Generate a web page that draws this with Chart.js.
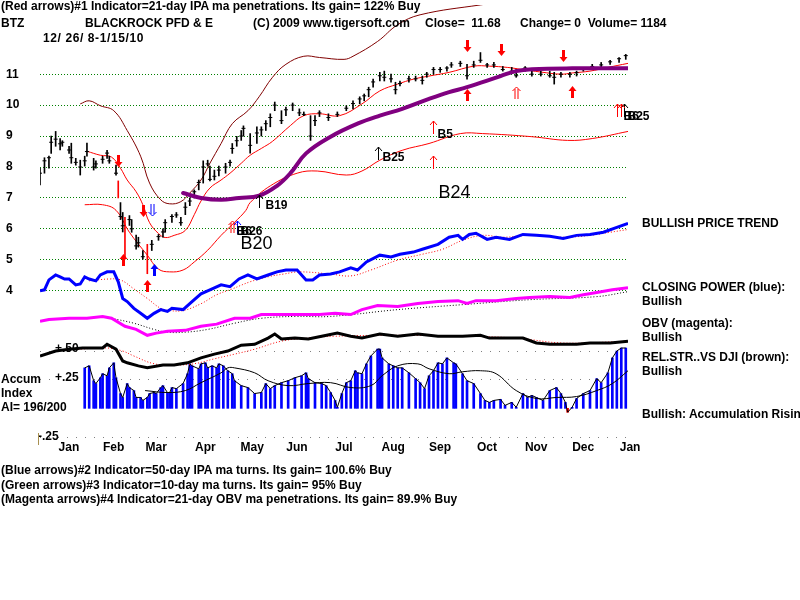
<!DOCTYPE html>
<html>
<head>
<meta charset="utf-8">
<script src="https://cdn.jsdelivr.net/npm/chart.js@4/dist/chart.umd.min.js"></script>
<style>
  body { margin: 0; background: #fff; }
  #wrap { position: relative; width: 800px; height: 600px; overflow: hidden;
          font-family: "Liberation Sans", Arial, sans-serif; font-weight: bold; font-size: 12px; color: #000; }
  #wrap canvas { position: absolute; left: 0; top: 0; }
  .t { position: absolute; white-space: pre; line-height: 14px; }
</style>
</head>
<body>
<div id="wrap">
  <canvas id="chart" width="800" height="600"></canvas>

  <div class="t" style="left:1px;top:-1px">(Red arrows)#1 Indicator=21-day IPA ma penetrations. Its gain= 122% Buy</div>
  <div class="t" style="left:1px;top:16px">BTZ</div>
  <div class="t" style="left:85px;top:16px">BLACKROCK PFD &amp; E</div>
  <div class="t" style="left:253px;top:16px">(C) 2009 www.tigersoft.com</div>
  <div class="t" style="left:425px;top:16px">Close=  11.68</div>
  <div class="t" style="left:520px;top:16px">Change= 0  Volume= 1184</div>
  <div class="t" style="left:43px;top:31px;letter-spacing:0.6px">12/ 26/ 8-1/15/10</div>

  <div class="t" style="left:642px;top:216px">BULLISH PRICE TREND</div>
  <div class="t" style="left:642px;top:280px">CLOSING POWER (blue):</div>
  <div class="t" style="left:642px;top:294px">Bullish</div>
  <div class="t" style="left:642px;top:316px">OBV (magenta):</div>
  <div class="t" style="left:642px;top:330px">Bullish</div>
  <div class="t" style="left:642px;top:350px">REL.STR..VS DJI (brown):</div>
  <div class="t" style="left:642px;top:364px">Bullish</div>
  <div class="t" style="left:642px;top:407px">Bullish: Accumulation Rising</div>

  <div class="t" style="left:1px;top:372px">Accum</div>
  <div class="t" style="left:1px;top:386px">Index</div>
  <div class="t" style="left:1px;top:400px">AI= 196/200</div>
  <div class="t" style="left:55px;top:341px">+.50</div>
  <div class="t" style="left:55px;top:370px">+.25</div>
  <div class="t" style="left:38px;top:429px">-.25</div>
  <div style="position:absolute;left:38px;top:433px;width:1px;height:12px;background:#a89050"></div>

  <div class="t" style="left:1px;top:463px">(Blue arrows)#2 Indicator=50-day IPA ma turns. Its gain= 100.6% Buy</div>
  <div class="t" style="left:1px;top:478px">(Green arrows)#3 Indicator=10-day ma turns. Its gain= 95% Buy</div>
  <div class="t" style="left:1px;top:492px">(Magenta arrows)#4 Indicator=21-day OBV ma penetrations. Its gain= 89.9% Buy</div>
</div>

<script>
'use strict';

// x = trading day since 12/26/08, prices in dollars, indicators drawn in the price grid
const monthTicks = [4, 24, 43, 65, 86, 106, 127, 149, 170, 191, 213, 234, 255];
const monthLabels = ['Jan', 'Feb', 'Mar', 'Apr', 'May', 'Jun', 'Jul', 'Aug', 'Sep', 'Oct', 'Nov', 'Dec', 'Jan'];
const priceTicks = [4, 5, 6, 7, 8, 9, 10, 11];
const accumLevels = [-0.25, 0.25, 0.5];

const barDays = [0,2,4,5,7,9,10,13,14,16, 18,20,21,24,25,28,30,31,34,36, 37,40,41,43,44,46,50,53,55,56,
  59,61,63,65,67,69,71,73,75,76, 78,80,83,85,86,88,90,91,94,97, 99,101,103,105,108,110,113,116,118,121,
  123,125,129,133,137,140,143,145,147,149, 152,154,157,159,161,165,168,171,173,176,
  179,182,184,188,191,194,197,200,203,207, 211,213,217,220,224,228,230,233,237,240, 243,247,251,255,259,262];
const barHigh = [7.96,8.3,8.35,9.0,9.15,8.92,8.85,8.67,8.77,8.28, 8.22,8.35,8.77,8.28,8.2,8.35,8.54,8.35,8.06,6.85,
  6.53,6.43,6.3,5.8,5.73,5.3,5.63,5.82,6.0,6.3, 6.46,6.53,6.37,6.85,7.0,7.26,7.58,8.2,8.22,8.03,
  7.9,8.03,8.12,8.22,8.76,8.99,9.18,9.33,9.08,9.3, 9.3,9.5,9.72,10.1,9.82,9.94,10.07,9.88,9.78,9.66,
  9.66,9.82,9.72,9.78,9.98,10.14,10.27,10.36,10.58,10.84, 11.06,11.1,11.0,10.74,10.78,10.94,10.94,10.94,11.06,11.22,
  11.22,11.25,11.38,11.42,11.32,11.42,11.7,11.35,11.38,11.25, 11.22,11.16,11.25,11.13,11.1,11.1,11.06,11.06,11.06,11.1,
  11.22,11.32,11.38,11.45,11.54,11.64];
const barLow = [7.42,7.8,7.96,8.44,8.67,8.55,8.67,8.44,8.12,8.06, 7.74,8.03,8.35,7.9,7.96,8.12,8.28,8.12,7.74,6.3,
  5.9,6.11,5.89,5.34,5.41,5.02,5.3,5.63,5.73,5.89, 6.21,6.37,6.11,6.46,6.75,7.0,7.26,7.48,8.03,7.55,
  7.58,7.71,7.8,8.03,8.44,8.67,8.86,9.0,8.45,8.76, 9.0,9.18,9.3,9.82,9.4,9.66,9.82,9.66,9.66,8.86,
  9.34,9.63,9.5,9.63,9.82,9.88,10.04,10.14,10.27,10.58, 10.78,10.78,10.74,10.36,10.62,10.74,10.78,10.68,10.9,11.0,
  11.06,11.1,11.22,11.25,10.84,11.22,11.38,11.22,11.22,11.1, 11.06,10.9,11.1,10.94,10.94,10.9,10.68,10.9,10.9,10.94,
  11.1,11.16,11.22,11.32,11.38,11.48];
const barClose = [7.8,8.2,8.3,8.8,8.9,8.75,8.8,8.55,8.3,8.15, 8.0,8.2,8.5,8.0,8.1,8.25,8.45,8.2,7.8,6.4,
  6.1,6.3,6.0,5.45,5.55,5.1,5.5,5.75,5.9,6.2, 6.4,6.45,6.2,6.7,6.9,7.2,7.5,8.0,8.1,7.6,
  7.7,7.9,8.0,8.15,8.6,8.85,9.0,9.25,8.7,9.1, 9.2,9.4,9.6,10.0,9.5,9.85,10.0,9.75,9.7,9.0,
  9.5,9.75,9.6,9.7,9.9,10.05,10.2,10.3,10.5,10.75, 10.95,10.9,10.85,10.5,10.7,10.85,10.85,10.8,11.0,11.15,
  11.15,11.2,11.3,11.35,10.95,11.3,11.45,11.3,11.3,11.15, 11.1,10.95,11.2,11.0,11.0,10.95,10.9,11.0,11.0,11.05,
  11.15,11.25,11.3,11.4,11.5,11.6];

// sell-off days drawn in red
const redBarDays = [35, 38, 48];
const redBarHigh = [7.55, 6.37, 5.5];
const redBarLow = [7.0, 5.02, 4.55];

const upperBandDays = [18,22,27,33,39,45,49,54,58,63,67,72,76,81,86,93,98,104,110,118,125,136,140,151,160,170,197,224,263];
const upperBandVals = [10.04,10.14,9.98,9.82,9.18,8.35,7.48,6.94,6.81,6.88,7.16,7.58,8.12,8.76,9.4,9.82,10.27,10.9,11.32,11.58,11.54,11.48,11.58,12.06,12.6,12.92,13.24,13.5,13.6];

const ma21Days = [21,27,32,36,39,43,46,49,53,56,60,65,69,72,76,81,85,90,94,99,104,112,118,125,134,144,152,160,167,174,183,194,201,209,215,224,233,238,246,254,263];
const ma21Vals = [8.51,8.38,8.32,7.96,7.58,7.2,6.78,6.2,5.85,5.72,5.79,5.95,6.46,6.9,7.32,7.58,7.8,8.12,8.38,8.6,8.83,9.34,9.66,9.72,9.66,10.04,10.46,10.68,10.84,10.94,11.06,11.26,11.26,11.22,11.16,11.07,11.0,11.04,11.1,11.22,11.35];

const lowerBandDays = [20,28,34,40,48,53,58,64,69,75,81,87,92,94,103,115,124,137,144,152,162,174,188,198,220,236,247,263];
const lowerBandVals = [6.78,6.78,6.6,5.89,5.15,4.7,4.61,4.67,4.93,5.31,5.79,6.21,6.59,6.85,7.39,7.8,7.87,7.74,7.87,8.22,8.54,8.76,9.08,9.08,8.98,8.86,8.92,9.15];

const ma50Days = [64,72,81,89,98,106,112,119,130,142,152,162,174,183,191,206,213,220,238,263];
const ma50Vals = [7.16,7.0,6.94,7.0,7.07,7.39,7.8,8.44,8.98,9.4,9.66,9.88,10.2,10.42,10.58,10.94,11.1,11.16,11.19,11.19];

const cpDays = [0,2,4,7,9,11,13,16,18,20, 22,25,27,30,33,35,37,39,42,45, 48,51,54,57,59,64,68,72,76,81,
  85,89,93,97,102,106,110,115,119,122, 125,130,134,139,142,146,152,157,161,167, 171,178,183,187,189,192,195,200,204,210,
  216,222,228,234,240,246,252,258,263];
const cpVals = [4.0,4.03,4.35,4.51,4.45,4.38,4.38,4.19,4.22,4.45, 4.38,4.32,4.51,4.61,4.61,4.29,3.75,3.65,3.43,3.27,
  3.11,3.27,3.39,3.33,3.43,3.39,3.65,3.9,4.03,4.19, 4.13,4.38,4.51,4.38,4.51,4.61,4.67,4.67,4.35,4.35,
  4.51,4.54,4.61,4.74,4.67,4.93,5.15,5.09,5.18,5.25, 5.34,5.5,5.73,5.79,5.66,5.82,5.86,5.66,5.73,5.66,
  5.82,5.79,5.76,5.69,5.79,5.82,5.89,6.05,6.18];
const cpMaDays = [22,31,36,42,48,54,58,64,72,79,86,94,102,109,116,130,139,148,160,171,180,189,198,207,219,234,246,255,263];
const cpMaVals = [4.32,4.38,4.35,4.06,3.75,3.43,3.36,3.36,3.58,3.87,4.06,4.29,4.45,4.54,4.61,4.54,4.48,4.67,4.99,5.18,5.34,5.63,5.79,5.73,5.79,5.73,5.79,5.89,5.98];

const obvDays = [0,4,13,21,28,32,38,43,48,52,57,65,72,79,87,94,99,109,117,125,132,139,144,151,160,169,178,187,191,195,204,213,219,228,237,243,249,256,263];
const obvVals = [3.01,3.07,3.11,3.11,3.17,3.11,2.85,2.75,2.56,2.63,2.69,2.72,2.85,2.92,3.11,3.11,3.23,3.23,3.23,3.23,3.27,3.23,3.39,3.52,3.49,3.59,3.65,3.68,3.59,3.68,3.68,3.75,3.78,3.81,3.78,3.87,3.94,4.03,4.1];
const obvMaDays = [32,42,51,57,65,75,87,99,114,130,160,189,219,249,263];
const obvMaVals = [3.11,2.95,2.75,2.66,2.66,2.75,2.95,3.11,3.17,3.17,3.39,3.55,3.71,3.81,3.97];

const rsDays = [0,7,13,19,23,28,30,34,37,39,44,48,55,60,66,72,78,84,90,96,102,105,108,114,120,126,133,139,144,152,160,169,178,189,197,201,210,216,222,228,234,240,246,255,263];
const rsVals = [1.89,2.05,2.11,2.15,2.15,2.15,2.27,2.11,1.73,1.67,1.57,1.51,1.6,1.6,1.67,1.83,1.95,2.05,2.24,2.27,2.47,2.6,2.44,2.47,2.44,2.53,2.63,2.53,2.47,2.6,2.53,2.6,2.53,2.53,2.56,2.47,2.47,2.47,2.31,2.27,2.27,2.27,2.31,2.31,2.37];
const rsMaDays = [17,30,37,42,51,60,69,78,87,96,108,120,132,161,189,213,234,263];
const rsMaVals = [2.11,2.15,2.05,1.89,1.64,1.6,1.64,1.8,1.95,2.11,2.37,2.47,2.53,2.56,2.53,2.47,2.31,2.37];

const accumDays = [20,22,24,25,27,28,30,31,33,34, 36,37,39,40,42,43,45,46,48,49, 51,52,54,55,57,58,59,61,64,66,
  67,68,71,72,74,75,77,79,80,82, 84,86,87,90,93,96,99,101,103,105, 108,111,114,117,119,120,123,126,128,130,
  132,133,135,137,139,141,142,144,146,148, 151,152,153,156,158,160,162,165,168,170, 172,174,176,178,180,182,185,186,189,191,
  194,197,199,201,203,206,208,211,213,216, 218,220,222,225,228,231,233,235,236,238, 240,243,246,249,251,254,256,258,260,262];
const accumVals = [0.353,0.371,0.241,0.216,0.267,0.302,0.284,0.353,0.397,0.267, 0.129,0.095,0.216,0.181,0.155,0.095,0.095,0.069,0.095,0.129,
  0.138,0.129,0.181,0.198,0.138,0.138,0.181,0.172,0.216,0.302, 0.388,0.371,0.345,0.388,0.397,0.353,0.371,0.353,0.388,0.371,
  0.328,0.302,0.241,0.198,0.181,0.129,0.138,0.216,0.172,0.198, 0.224,0.241,0.267,0.284,0.31,0.259,0.224,0.216,0.198,0.138,
  0.069,0.009,0.129,0.224,0.241,0.328,0.31,0.302,0.388,0.457, 0.517,0.517,0.44,0.388,0.371,0.353,0.353,0.31,0.259,0.224,
  0.172,0.284,0.328,0.397,0.388,0.44,0.397,0.388,0.302,0.241, 0.216,0.129,0.069,0.052,0.069,0.078,0.026,0.052,0.009,0.129,
  0.095,0.112,0.095,0.069,0.155,0.181,0.129,0.052,-0.034,0.009, 0.086,0.129,0.155,0.259,0.224,0.31,0.44,0.5,0.526,0.526];
const accumMaDays = [47,57,65,72,81,84,87,96,102,111,120,130,139,148,153,160,169,174,183,189,197,204,213,222,231,240,249,256,263];
const accumMaVals = [0.155,0.138,0.155,0.224,0.31,0.353,0.353,0.31,0.241,0.198,0.216,0.224,0.181,0.198,0.284,0.371,0.388,0.345,0.302,0.319,0.328,0.302,0.155,0.086,0.095,0.103,0.155,0.216,0.328];

// signal arrows: day and price of the arrow tip
const ipaSellDays = [35, 46, 191, 206, 234];
const ipaSellTips = [8.0, 6.37, 11.73, 11.6, 11.38];
const ipaBuyDays = [37, 48, 191, 238];
const ipaBuyTips = [5.18, 4.35, 10.52, 10.61];
const ipaTurnDays = [86, 213];
const ipaTurnTips = [6.27, 10.58];
const ma50SellDays = [50];
const ma50SellTips = [6.4];
const ma50BuyDays = [51];
const ma50BuyTips = [4.86];
const minorBuyDays = [88];
const minorBuyTips = [6.27];
const bSignalDays = [98, 151, 261];
const bSignalTips = [7.1, 8.66, 10.04];
const redTickDays = [176, 176, 258, 260];
const redTickTips = [9.49, 8.34, 10.04, 10.04];

const signalNames = ['B19', 'B25', 'B5', 'B6', 'B26', 'B6', 'B25'];
const signalDays = [100.6, 153, 177.5, 87.7, 89.4, 260.7, 262.5];
const signalPrices = [6.75, 8.28, 9.05, 5.89, 5.89, 9.62, 9.62];
const bigNames = ['B20', 'B24'];
const bigDays = [89.4, 178];
const bigPrices = [5.5, 7.16];

const pts = (xs, ys) => xs.map((x, i) => ({ x, y: ys[i] }));
const spans = (xs, lo, hi) => xs.map((x, i) => ({ x, y: [lo[i], hi[i]] }));

function line(xs, ys, color, width, order, extra) {
  return Object.assign({
    type: 'line', data: pts(xs, ys), borderColor: color, borderWidth: width,
    pointRadius: 0, fill: false, tension: 0, yAxisID: 'y', order,
  }, extra || {});
}

function drawSolid(ctx, px, py, dir, color) {
  const s = dir === 'up' ? 1 : -1;
  ctx.fillStyle = color;
  ctx.beginPath();
  ctx.moveTo(px, py);
  ctx.lineTo(px - 4, py + s * 5);
  ctx.lineTo(px + 4, py + s * 5);
  ctx.closePath();
  ctx.fill();
  ctx.fillRect(px - 1.5, dir === 'up' ? py + 5 : py - 12, 3, 7);
}

function drawHollow(ctx, px, py, dir, color) {
  const s = dir === 'up' ? 1 : -1;
  ctx.strokeStyle = color;
  ctx.lineWidth = 1;
  ctx.beginPath();
  ctx.moveTo(px - 4, py + s * 4);
  ctx.lineTo(px, py);
  ctx.lineTo(px + 4, py + s * 4);
  ctx.moveTo(px - 1.5, py + s * 2);
  ctx.lineTo(px - 1.5, py + s * 12);
  ctx.moveTo(px + 1.5, py + s * 2);
  ctx.lineTo(px + 1.5, py + s * 12);
  ctx.stroke();
}

function drawThin(ctx, px, py, color) {
  ctx.strokeStyle = color;
  ctx.lineWidth = 1;
  ctx.beginPath();
  ctx.moveTo(px - 3.5, py + 4);
  ctx.lineTo(px, py);
  ctx.lineTo(px + 3.5, py + 4);
  ctx.moveTo(px, py);
  ctx.lineTo(px, py + 13);
  ctx.stroke();
}

const signalPlugin = {
  id: 'signals',
  afterDatasetsDraw(chart) {
    const { ctx, scales: { x, y } } = chart;
    const at = (d, p) => [Math.round(x.getPixelForValue(d)) + 0.5, Math.round(y.getPixelForValue(p))];
    ctx.save();
    ipaSellDays.forEach((d, i) => { const [px, py] = at(d, ipaSellTips[i]); drawSolid(ctx, px, py, 'down', '#ff0000'); });
    ipaBuyDays.forEach((d, i) => { const [px, py] = at(d, ipaBuyTips[i]); drawSolid(ctx, px, py, 'up', '#ff0000'); });
    ipaTurnDays.forEach((d, i) => { const [px, py] = at(d, ipaTurnTips[i]); drawHollow(ctx, px, py, 'up', '#ff0000'); });
    ma50SellDays.forEach((d, i) => { const [px, py] = at(d, ma50SellTips[i]); drawHollow(ctx, px, py, 'down', '#0000ff'); });
    ma50BuyDays.forEach((d, i) => { const [px, py] = at(d, ma50BuyTips[i]); drawSolid(ctx, px, py, 'up', '#0000ff'); });
    minorBuyDays.forEach((d, i) => { const [px, py] = at(d, minorBuyTips[i]); drawThin(ctx, px, py, '#0000ff'); });
    bSignalDays.forEach((d, i) => { const [px, py] = at(d, bSignalTips[i]); drawThin(ctx, px, py, '#000000'); });
    redTickDays.forEach((d, i) => { const [px, py] = at(d, redTickTips[i]); drawThin(ctx, px, py, '#ff0000'); });

    ctx.fillStyle = '#000';
    ctx.textBaseline = 'middle';
    ctx.textAlign = 'left';
    ctx.font = 'bold 12px "Liberation Sans", Arial, sans-serif';
    signalNames.forEach((t, i) => { const [px, py] = at(signalDays[i], signalPrices[i]); ctx.fillText(t, px, py); });
    ctx.font = '18px "Liberation Sans", Arial, sans-serif';
    bigNames.forEach((t, i) => { const [px, py] = at(bigDays[i], bigPrices[i]); ctx.fillText(t, px, py); });
    ctx.restore();
  },
};

const noPad = (s) => { s.paddingTop = 0; s.paddingBottom = 0; s.paddingLeft = 0; s.paddingRight = 0; };

new Chart(document.getElementById('chart'), {
  type: 'line',
  data: {
    datasets: [
      { type: 'bar', data: pts(accumDays, accumVals), yAxisID: 'yAcc', grouped: false, barThickness: 2,
        backgroundColor: (c) => (c.raw && c.raw.y < 0 ? '#ff0000' : '#0000ff'), order: 20 },
      line(accumDays, accumVals, '#000000', 1, 19, { yAxisID: 'yAcc' }),
      line(accumMaDays, accumMaVals, '#000000', 1, 18, { yAxisID: 'yAcc', tension: 0.4 }),

      line(upperBandDays, upperBandVals, '#800000', 1, 15, { tension: 0.4 }),
      line(ma21Days, ma21Vals, '#ff0000', 1, 15, { tension: 0.4 }),
      line(lowerBandDays, lowerBandVals, '#ff0000', 1, 15, { tension: 0.4 }),

      line(cpMaDays, cpMaVals, '#ff0000', 1, 14, { borderDash: [1, 2], tension: 0.4 }),
      line(obvMaDays, obvMaVals, '#000000', 1, 14, { borderDash: [1, 2], tension: 0.4 }),
      line(rsMaDays, rsMaVals, '#ff0000', 1, 14, { borderDash: [1, 2], tension: 0.4 }),

      line(cpDays, cpVals, '#0000ff', 3, 12),
      line(obvDays, obvVals, '#ff00ff', 3, 12),
      line(rsDays, rsVals, '#000000', 3, 12),

      { type: 'bar', data: spans(redBarDays, redBarLow, redBarHigh), yAxisID: 'y', grouped: false,
        barThickness: 1, backgroundColor: '#ff0000', order: 10 },
      { type: 'bar', data: spans(barDays, barLow, barHigh), yAxisID: 'y', grouped: false,
        barThickness: 1, backgroundColor: '#000000', order: 9 },
      line(barDays, barClose, '#000000', 1, 8, { showLine: false, pointRadius: 2, pointStyle: 'line',
        pointBorderColor: '#000000', pointBorderWidth: 1 }),

      line(ma50Days, ma50Vals, '#800080', 4, 5, { tension: 0.4, borderCapStyle: 'round' }),
    ],
  },
  options: {
    responsive: false,
    animation: false,
    events: [],
    layout: { padding: { left: 6, right: 172, top: 0, bottom: 0 } },
    plugins: { legend: { display: false }, tooltip: { enabled: false } },
    scales: {
      x: {
        type: 'linear', min: 0, max: 263, offset: false,
        afterBuildTicks: (s) => { s.ticks = monthTicks.map((v) => ({ value: v })); },
        afterFit: (s) => { s.height = 160; noPad(s); },
        grid: { display: false, drawTicks: false },
        border: { display: false },
        ticks: {
          padding: 0, labelOffset: 20, autoSkip: false, maxRotation: 0, color: '#000',
          font: { family: '"Liberation Sans", Arial, sans-serif', size: 12, weight: 'bold' },
          callback: (v, i) => monthLabels[i],
        },
      },
      y: {
        position: 'left', min: -0.825, max: 13.237,
        afterBuildTicks: (s) => { s.ticks = priceTicks.map((v) => ({ value: v })); },
        afterFit: (s) => { s.width = 34; noPad(s); },
        grid: { color: '#008000', lineWidth: 1, drawTicks: false },
        border: { display: false, dash: [1, 2] },
        ticks: {
          crossAlign: 'far', padding: 0, color: '#000',
          font: { family: '"Liberation Sans", Arial, sans-serif', size: 12, weight: 'bold' },
        },
      },
      yAcc: {
        position: 'left', min: -0.276, max: 3.517,
        afterBuildTicks: (s) => { s.ticks = accumLevels.map((v) => ({ value: v })); },
        afterFit: (s) => { s.width = 0; noPad(s); },
        grid: { color: '#808080', lineWidth: 1, drawTicks: false },
        border: { display: false, dash: [1, 8] },
        ticks: { display: false },
      },
    },
  },
  plugins: [signalPlugin],
});
</script>
</body>
</html>
